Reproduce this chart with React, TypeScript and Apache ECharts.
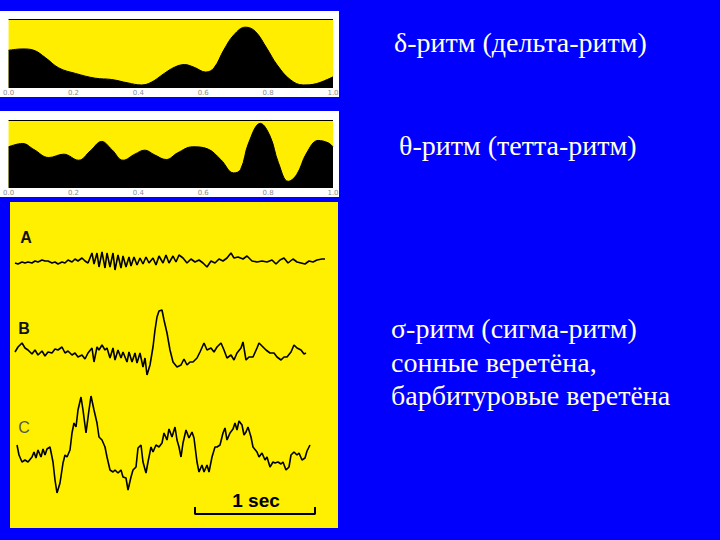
import React, { useEffect, useRef } from "react";
import * as echarts from "echarts";

// Spectral panels: relative time (0..1) and relative amplitude (0..1)
const tickLabels = ["0.0", "0.2", "0.4", "0.6", "0.8", "1.0"];

const deltaWave: [number, number][] = [
  [0, 0.54], [0.043, 0.56], [0.078, 0.54], [0.114, 0.43], [0.155, 0.28], [0.206, 0.2],
  [0.267, 0.13], [0.318, 0.11], [0.368, 0.06], [0.409, 0.03], [0.44, 0.07], [0.48, 0.2],
  [0.511, 0.29], [0.542, 0.33], [0.572, 0.29], [0.608, 0.22], [0.633, 0.28], [0.664, 0.55],
  [0.695, 0.77], [0.73, 0.88], [0.76, 0.82], [0.796, 0.57], [0.827, 0.33], [0.868, 0.11],
  [0.908, 0.03], [0.949, 0.05], [1.0, 0.15],
];

const thetaWave: [number, number][] = [
  [0, 0.6], [0.043, 0.65], [0.078, 0.56], [0.124, 0.44], [0.17, 0.49], [0.216, 0.4],
  [0.252, 0.54], [0.287, 0.68], [0.318, 0.56], [0.353, 0.4], [0.389, 0.49], [0.42, 0.55],
  [0.45, 0.48], [0.486, 0.41], [0.521, 0.51], [0.567, 0.6], [0.613, 0.57], [0.654, 0.41],
  [0.694, 0.21], [0.715, 0.26], [0.74, 0.66], [0.776, 0.95], [0.806, 0.76], [0.832, 0.36],
  [0.862, 0.085], [0.888, 0.185], [0.919, 0.51], [0.954, 0.695], [0.985, 0.66], [1.0, 0.6],
];

// EEG traces: [sample index (120 samples = 1 s), amplitude]
const traceA: [number, number][] = [
  [15, -1], [18, -2], [22, 0], [25, -1], [28, 0], [32, -1], [35, 1], [38, 0], [42, 2], [45, 1],
  [48, 1], [52, -1], [55, 0], [58, -2], [62, 0], [65, -1], [68, 2], [72, 0], [75, 3], [78, 1],
  [82, 4], [85, 1], [88, -1], [92, 9], [94, -2], [97, 9], [99, -5], [102, 10], [105, -6], [107, 9],
  [110, -5], [113, 9], [115, -8], [118, 7], [121, -6], [123, 6], [126, -5], [129, 5], [131, -4],
  [134, 5], [137, -3], [140, 4], [143, -2], [146, 5], [149, -1], [153, 4], [156, -3], [159, 6],
  [163, -1], [166, 7], [169, -1], [173, 6], [176, 0], [179, 7], [183, 4], [187, -1], [191, 3],
  [195, 0], [199, 2], [203, -1], [207, -5], [211, 1], [215, -1], [219, 3], [223, 1], [227, 4],
  [231, 9], [234, 4], [238, 5], [243, 3], [247, 6], [252, 1], [257, 0], [262, 1], [267, 0],
  [272, 2], [276, -2], [280, 2], [284, 4], [288, -1], [293, 3], [297, 0], [301, -1], [305, -2],
  [309, 1], [313, 0], [317, 2], [322, 3], [325, 3],
];

const traceB: [number, number][] = [
  [15, 1], [18, 6], [22, 10], [25, 5], [28, 3], [32, -1], [35, 3], [38, -2], [42, 2], [45, -3],
  [48, 1], [52, 0], [55, 4], [58, 3], [62, 6], [65, 0], [68, 2], [72, -2], [75, 0], [78, -4],
  [82, -2], [85, -6], [88, 0], [92, 5], [94, -9], [97, 6], [99, 3], [102, 8], [105, 3], [107, 5],
  [110, -5], [113, 5], [115, -7], [118, 3], [121, -5], [123, 1], [127, -9], [129, 1], [132, -9],
  [135, 0], [137, -10], [140, 0], [143, -14], [145, -5], [147, -22], [150, -12], [153, 6],
  [155, 23], [157, 36], [159, 42], [162, 43], [164, 33], [167, 20], [170, 3], [173, -9],
  [177, -14], [181, -12], [184, -6], [187, -12], [190, -9], [193, -9], [197, -5], [200, 1],
  [204, 10], [207, 3], [211, 5], [214, 1], [217, 6], [221, 10], [224, 3], [227, -5], [231, -2],
  [234, -7], [237, 0], [241, 5], [243, 11], [246, -7], [249, -4], [253, -4], [257, 5], [259, 10],
  [263, 6], [266, 3], [270, 0], [274, 0], [277, -4], [281, -7], [284, -4], [287, -4], [291, 1],
  [294, 8], [297, 5], [301, 3], [304, -1], [306, 0],
];

const traceC: [number, number][] = [
  [17, 10], [19, 0], [22, -7], [25, -5], [28, -7], [32, -2], [34, 3], [36, -3], [38, 5], [41, -2],
  [43, 6], [45, 0], [47, 6], [50, 8], [53, -7], [55, -25], [57, -38], [60, -28], [63, -8], [65, 0],
  [67, -2], [70, 5], [72, 22], [74, 32], [76, 28], [78, 45], [81, 58], [83, 45], [86, 22], [89, 45],
  [91, 59], [94, 45], [97, 32], [99, 18], [102, 15], [105, 8], [107, -2], [110, -15], [113, -17],
  [115, -15], [118, -18], [121, -15], [123, -22], [126, -23], [128, -35], [131, -22], [133, -15],
  [136, -12], [138, 7], [141, 10], [143, -7], [146, -18], [148, -7], [151, 8], [153, 3], [156, 10],
  [159, 8], [162, 12], [164, 22], [167, 15], [169, 26], [172, 18], [175, 28], [177, 15], [179, 8],
  [181, -2], [183, 12], [186, 25], [189, 17], [192, 23], [194, 17], [197, -7], [199, -17],
  [202, -10], [204, -17], [207, -10], [209, -17], [212, -2], [215, 8], [217, 8], [220, 10],
  [223, 22], [225, 27], [227, 15], [230, 22], [233, 26], [235, 32], [237, 25], [239, 34], [242, 30],
  [244, 20], [246, 23], [248, 28], [251, 18], [253, 8], [257, 3], [259, -2], [262, 2], [265, -5],
  [267, -2], [270, -12], [273, -7], [275, -8], [278, -7], [281, -9], [283, -7], [286, -15],
  [289, -12], [291, 0], [294, 3], [297, 0], [299, 2], [302, -5], [305, -3], [307, 4], [310, 10],
];

// 1-second scale bar (120 samples), drawn below trace C
const scaleBar: [number, number][] = [[195, -52], [195, -59], [315, -59], [315, -52]];

const traceLabels = ["A", "B", "C"];
const titles = [
  "δ-ритм (дельта-ритм)",
  "θ-ритм (тетта-ритм)",
  "σ-ритм (сигма-ритм)",
  "сонные веретёна,",
  "барбитуровые веретёна",
];

const BLUE = "#0000fc";
const YELLOW = "#ffee00";
const TEXT = "#fffff0";

export default function App() {
  const ref = useRef<HTMLDivElement>(null);
  useEffect(() => {
    if (!ref.current) return;
    const chart = echarts.init(ref.current, undefined, { renderer: "svg" });

    const specX = (idx: number) => ({
      type: "value",
      gridIndex: idx,
      min: 0,
      max: 1,
      interval: 0.2,
      axisLine: { show: false },
      axisTick: { show: false },
      splitLine: { show: false },
      axisLabel: {
        show: true,
        margin: 2,
        fontSize: 7,
        color: "#8c8c8c",
        fontFamily: "DejaVu Sans",
        formatter: (v: number) => tickLabels[Math.round(v * 5)] ?? "",
      },
    });
    const specY = (idx: number) => ({
      type: "value",
      gridIndex: idx,
      min: 0,
      max: 1,
      interval: 1,
      axisLine: { show: false },
      axisTick: { show: false },
      axisLabel: { show: false },
      splitLine: { show: true, lineStyle: { color: "#000", width: 1 } },
    });
    const eegX = (idx: number) => ({
      type: "value",
      gridIndex: idx,
      min: 10,
      max: 338,
      show: false,
    });
    const eegY = (idx: number, min: number, max: number) => ({
      type: "value",
      gridIndex: idx,
      min,
      max,
      show: false,
    });

    const eegLine = (idx: number, data: [number, number][], width = 1.6) => ({
      type: "line",
      xAxisIndex: idx,
      yAxisIndex: idx,
      data,
      showSymbol: false,
      symbol: "none",
      smooth: false,
      lineStyle: { color: "#000", width },
      clip: false,
    });

    const titleStyle = (text: string) => ({
      text,
      fill: TEXT,
      fontSize: 28,
      fontFamily: "Liberation Serif",
      align: "left",
      verticalAlign: "middle",
    });

    chart.setOption({
      animation: false,
      backgroundColor: BLUE,
      grid: [
        { left: 6, top: 19, width: 327, height: 68, show: true, backgroundColor: YELLOW, borderWidth: 0 },
        { left: 6, top: 120, width: 327, height: 67, show: true, backgroundColor: YELLOW, borderWidth: 0 },
        { left: 10, top: 240, width: 328, height: 45 },
        { left: 10, top: 300, width: 328, height: 85 },
        { left: 10, top: 385, width: 328, height: 135 },
      ],
      xAxis: [specX(0), specX(1), eegX(2), eegX(3), eegX(4)],
      yAxis: [specY(0), specY(1), eegY(2, -23, 22), eegY(3, -32, 53), eegY(4, -65, 70)],
      series: [
        {
          type: "line",
          xAxisIndex: 0,
          yAxisIndex: 0,
          data: deltaWave,
          smooth: 0.4,
          showSymbol: false,
          symbol: "none",
          lineStyle: { color: "#000", width: 1 },
          areaStyle: { color: "#000", opacity: 1 },
        },
        {
          type: "line",
          xAxisIndex: 1,
          yAxisIndex: 1,
          data: thetaWave,
          smooth: 0.4,
          showSymbol: false,
          symbol: "none",
          lineStyle: { color: "#000", width: 1 },
          areaStyle: { color: "#000", opacity: 1 },
        },
        eegLine(2, traceA),
        eegLine(3, traceB),
        eegLine(4, traceC),
        eegLine(4, scaleBar, 2),
      ],
      graphic: [
        { type: "rect", z: -10, shape: { x: 0, y: 11, width: 339, height: 86 }, style: { fill: "#ffffff" } },
        { type: "rect", z: -10, shape: { x: 0, y: 111, width: 339, height: 86 }, style: { fill: "#ffffff" } },
        { type: "rect", z: -10, shape: { x: 10, y: 202, width: 328, height: 326 }, style: { fill: "#ffef00" } },
        {
          type: "text", x: 26, y: 237,
          style: { text: traceLabels[0], fill: "#111", fontSize: 16, fontWeight: "bold", fontFamily: "Liberation Sans", align: "center", verticalAlign: "middle" },
        },
        {
          type: "text", x: 24, y: 328,
          style: { text: traceLabels[1], fill: "#111", fontSize: 16, fontWeight: "bold", fontFamily: "Liberation Sans", align: "center", verticalAlign: "middle" },
        },
        {
          type: "text", x: 24, y: 427,
          style: { text: traceLabels[2], fill: "#555", fontSize: 16, fontFamily: "Liberation Sans", align: "center", verticalAlign: "middle" },
        },
        {
          type: "text", x: 256, y: 500,
          style: { text: "1 sec", fill: "#000", fontSize: 19, fontWeight: "bold", fontFamily: "Liberation Sans", align: "center", verticalAlign: "middle" },
        },
        { type: "text", x: 394, y: 42, style: titleStyle(titles[0]) },
        { type: "text", x: 399, y: 145, style: titleStyle(titles[1]) },
        { type: "text", x: 391, y: 328, style: titleStyle(titles[2]) },
        { type: "text", x: 391, y: 362, style: titleStyle(titles[3]) },
        { type: "text", x: 391, y: 395, style: titleStyle(titles[4]) },
      ],
    });
    return () => chart.dispose();
  }, []);
  return (
    <div
      ref={ref}
      style={{ position: "fixed", left: 0, top: 0, width: 720, height: 540 }}
    />
  );
}
